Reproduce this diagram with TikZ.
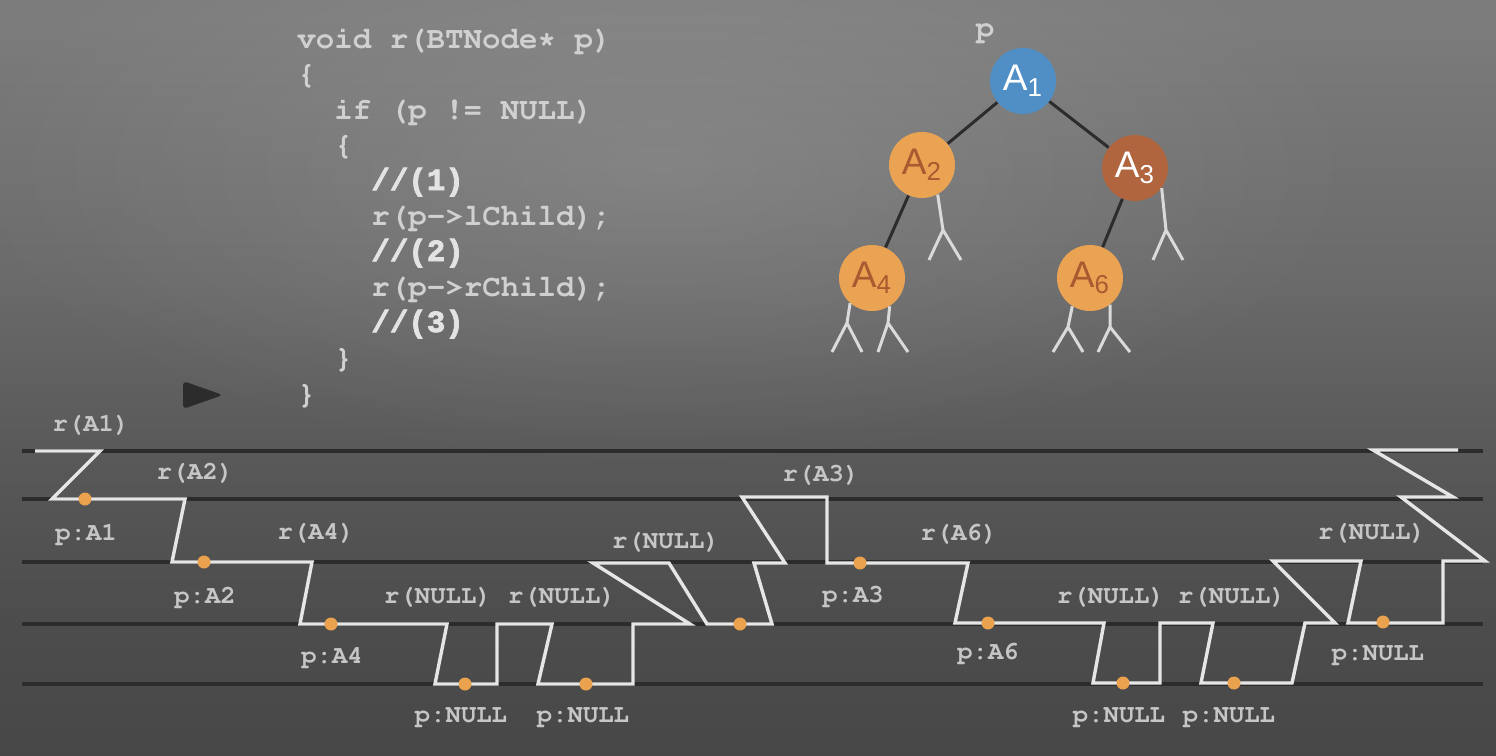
\documentclass[tikz,border=0pt]{standalone}
\usepackage[T1]{fontenc}
\usepackage{fontspec}
\setmainfont{Liberation Sans}
\setmonofont{Liberation Mono}
\newfontfamily\markfont[FakeBold=2.5]{Liberation Mono Bold}
\usetikzlibrary{fadings}
\newcommand\courier{\fontencoding{T1}\fontfamily{pcr}\fontseries{b}\selectfont}

\definecolor{txt}{HTML}{D0D0D0}
\definecolor{rail}{HTML}{2C2C2C}
\definecolor{trace}{HTML}{E6E6E6}
\definecolor{dotc}{HTML}{EBA24F}
\definecolor{nblue}{HTML}{4F8FC6}
\definecolor{norange}{HTML}{EAA352}
\definecolor{nbrown}{HTML}{B0653F}
\definecolor{ntext}{HTML}{A85A30}

\pgfdeclareverticalshading{bgvert}{100bp}{color(0bp)=(black!77); color(20.6bp)=(black!73); color(33.9bp)=(black!70); color(44.4bp)=(black!65.5); color(56.3bp)=(black!58.5); color(73.5bp)=(black!51.5); color(100bp)=(black!50.5)}
\tikzfading[name=glowfade, inner color=transparent!0, outer color=transparent!100]

\begin{document}
\begin{tikzpicture}[x=0.5pt, y=-0.5pt,
                    code/.style={font=\fontsize{15.4}{17}\courier, text=txt, anchor=base west, inner sep=0pt},
                    codebold/.style={code, font=\fontsize{15.4}{17}\markfont, text=txt!60!white},
                    lbl/.style={font=\fontsize{12.8}{14}\courier, text=txt!95!black, inner sep=0pt},
                    dot/.style={circle, fill=dotc, minimum size=6.5pt, inner sep=0pt},
                    tnode/.style={circle, minimum size=33pt, inner sep=0pt, font=\fontsize{18.5}{20}\selectfont},
                    edge/.style={draw=rail, line width=1.5pt},
                    stub/.style={draw=trace!95!black, line width=1.5pt},
                    rails/.style={draw=rail, line width=1.6pt},
                ]
                \useasboundingbox (0,0) rectangle (1496,756);
                \shade[shading=bgvert] (0,0) rectangle (1496,756);
                \fill[white, opacity=0.13, path fading=glowfade] (660,170) ellipse [x radius=700, y radius=300];

                %Code
                \node[code]     (c1)  at (297,48)    {void r(BTNode* p)};
                \node[code]     (c2)  at (297,83.5)  {\{};
                \node[code]     (c3)  at (334,119)   {if (p != NULL)};
                \node[code]     (c4)  at (334,154.5) {\{};
                \node[codebold] (c5)  at (371,190)   {//(1)};
                \node[code]     (c6)  at (371,225.5) {r(p->lChild);};
                \node[codebold] (c7)  at (371,261)   {//(2)};
                \node[code]     (c8)  at (371,296.5) {r(p->rChild);};
                \node[codebold] (c9)  at (371,332)   {//(3)};
                \node[code]     (c10) at (334,367.5) {\}};
                \node[code]     (c11) at (297,403)   {\}};
                \fill[rail, rounded corners=2pt] (183,381) -- (223,395) -- (183,409) -- cycle;

                %Tree
                \node[code, anchor=center] (p) at (985,33) {p};
                \node[tnode, fill=nblue,   text=white] (a1) at (1023,81)  {A\textsubscript{1}};
                \node[tnode, fill=norange, text=ntext] (a2) at (922,165)  {A\textsubscript{2}};
                \node[tnode, fill=nbrown,  text=white] (a3) at (1135,168) {A\textsubscript{3}};
                \node[tnode, fill=norange, text=ntext] (a4) at (872,278)  {A\textsubscript{4}};
                \node[tnode, fill=norange, text=ntext] (a6) at (1090,278) {A\textsubscript{6}};
                \draw[edge] (a1) -- (a2);
                \draw[edge] (a1) -- (a3);
                \draw[edge] (a2) -- (a4);
                \draw[edge] (a3) -- (a6);
                \draw[stub] (a2.-62)  -- (943,230) -- (929,260)  (943,230) -- (961,260);
                \draw[stub] (a3.-37)  -- (1166,230) -- (1153,260) (1166,230) -- (1183,260);
                \draw[stub] (a4.-131) -- (847,323) -- (832,352)  (847,323) -- (862,352);
                \draw[stub] (a4.-58)  -- (888,323) -- (878,352)  (888,323) -- (908,352);
                \draw[stub] (a6.-122) -- (1068,327) -- (1053,352) (1068,327) -- (1083,352);
                \draw[stub] (a6.-53)  -- (1110,327) -- (1098,352) (1110,327) -- (1130,352);

                %Call trace
                \foreach \y in {451,499,562,624,684}
                    \draw[rails] (22,\y) -- (1483,\y);
                \draw[trace, line width=1.7pt]
                    (35,451) -- (100,451) -- (52,499) -- (185,499) -- (172,562) -- (312,562)
                    -- (300,624) -- (447,624) -- (435,684) -- (497,684) -- (497,624) -- (552,624)
                    -- (538,684) -- (633,684) -- (633,624) -- (690,624) -- (593,563) -- (669,563)
                    -- (707,624) -- (772,624) -- (754,563) -- (785,563) -- (742,497) -- (827,497)
                    -- (827,563) -- (968,563) -- (955,623) -- (1104,623) -- (1093,683) -- (1160,683)
                    -- (1160,623) -- (1213,623) -- (1201,683) -- (1292,683) -- (1305,623) -- (1335,623)
                    -- (1273,561) -- (1361,561) -- (1348,623) -- (1443,623) -- (1443,561) -- (1485,561)
                    -- (1401,497) -- (1453,497) -- (1373,450) -- (1458,450);
                \foreach \x/\y [count=\i] in {85/499,204/562,331/624,465/684,586/684,740/624,
                                             860/563,988/623,1123/683,1234/683,1383/622}
                    \node[dot] (d\i) at (\x,\y) {};

                \node[lbl] (ra1) at (91,425)   {r(A1)};
                \node[lbl] (pa1) at (86,534)   {p:A1};
                \node[lbl] (ra2) at (195,473)  {r(A2)};
                \node[lbl] (pa2) at (205,597)  {p:A2};
                \node[lbl] (ra4) at (316,533)  {r(A4)};
                \node[lbl] (pa4) at (332,657)  {p:A4};
                \node[lbl] (rn1) at (438,597)  {r(NULL)};
                \node[lbl] (rn2) at (562,597)  {r(NULL)};
                \node[lbl] (pn1) at (461,717)  {p:NULL};
                \node[lbl] (pn2) at (583,717)  {p:NULL};
                \node[lbl] (rn3) at (666,542)  {r(NULL)};
                \node[lbl] (ra3) at (821,475)  {r(A3)};
                \node[lbl] (pa3) at (853,596)  {p:A3};
                \node[lbl] (ra6) at (959,534)  {r(A6)};
                \node[lbl] (pa6) at (988,653)  {p:A6};
                \node[lbl] (rn4) at (1111,597) {r(NULL)};
                \node[lbl] (rn5) at (1232,597) {r(NULL)};
                \node[lbl] (pn3) at (1119,717) {p:NULL};
                \node[lbl] (pn4) at (1229,717) {p:NULL};
                \node[lbl] (rn6) at (1372,533) {r(NULL)};
                \node[lbl] (pn5) at (1378,655) {p:NULL};
            \end{tikzpicture}
\end{document}
